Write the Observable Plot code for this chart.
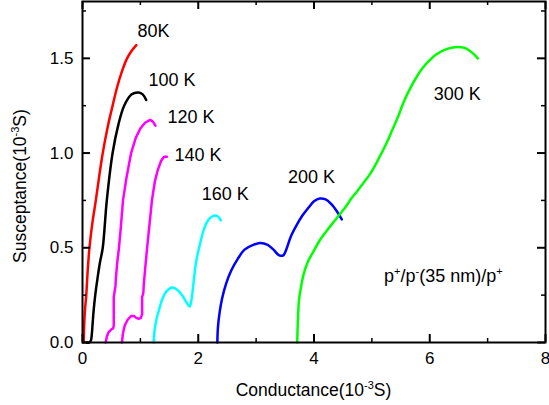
<!DOCTYPE html>
<html><head><meta charset="utf-8">
<script src="https://cdn.jsdelivr.net/npm/d3@7"></script>
<script src="https://cdn.jsdelivr.net/npm/@observablehq/plot@0.6"></script>
<style>body{margin:0;background:#fff}svg{display:block}</style>
</head><body><div id="chart"></div>
<script>
// ---- data (Conductance G, Susceptance B, units 10^-3 S) ----
const g80 = [0.02,0.03,0.045,0.065,0.09,0.12,0.17,0.23,0.29,0.35,0.43,0.52,0.60,0.68,0.77,0.85,0.93];
const b80 = [0.0,0.1,0.18,0.25,0.38,0.5,0.63,0.75,0.88,1.0,1.13,1.25,1.35,1.43,1.5,1.54,1.57];

const g100 = [0.07,0.12,0.145,0.16,0.175,0.19,0.22,0.26,0.30,0.35,0.42,0.52,0.62,0.72,0.85,0.97,1.04,1.10];
const b100 = [0.0,0.0,0.01,0.04,0.1,0.16,0.25,0.34,0.42,0.5,0.75,1.0,1.15,1.25,1.31,1.32,1.31,1.28];

const g120 = [0.40,0.42,0.45,0.50,0.53,0.54,0.54,0.55,0.56,0.57,0.58,0.60,0.63,0.66,0.70,0.76,0.84,0.92,1.0,1.08,1.17,1.22,1.26];
const b120 = [0.0,0.03,0.054,0.07,0.075,0.09,0.24,0.26,0.28,0.30,0.35,0.42,0.5,0.6,0.75,0.87,1.0,1.08,1.13,1.16,1.175,1.165,1.145];

const g140 = [0.68,0.70,0.73,0.78,0.84,0.89,0.93,0.97,1.01,1.03,1.03,1.05,1.06,1.08,1.11,1.15,1.20,1.25,1.30,1.36,1.41,1.46];
const b140 = [0.0,0.05,0.09,0.12,0.14,0.14,0.13,0.125,0.13,0.15,0.24,0.26,0.31,0.38,0.48,0.6,0.75,0.85,0.91,0.96,0.98,0.98];

const g160 = [1.23,1.24,1.27,1.32,1.38,1.45,1.55,1.63,1.72,1.80,1.85,1.88,1.92,1.96,2.03,2.10,2.17,2.24,2.29,2.34,2.39];
const b160 = [0.0,0.05,0.11,0.17,0.23,0.27,0.29,0.28,0.25,0.21,0.19,0.22,0.32,0.42,0.52,0.6,0.645,0.665,0.67,0.665,0.645];

const g200 = [2.33,2.34,2.37,2.41,2.48,2.57,2.68,2.80,2.95,3.07,3.20,3.30,3.40,3.47,3.52,3.60,3.70,3.80,3.90,4.00,4.10,4.20,4.30,4.40,4.48];
const b200 = [0.0,0.08,0.16,0.23,0.31,0.38,0.44,0.49,0.515,0.525,0.515,0.49,0.46,0.46,0.49,0.56,0.62,0.67,0.71,0.745,0.76,0.755,0.73,0.69,0.65];

const g300 = [3.71,3.72,3.74,3.78,3.82,3.90,3.99,4.10,4.22,4.35,4.48,4.58,4.62,4.75,4.86,4.97,5.10,5.25,5.35,5.45,5.55,5.66,5.77,5.88,6.00,6.11,6.30,6.49,6.60,6.69,6.77,6.83];
const b300 = [0.0,0.1,0.22,0.3,0.36,0.43,0.48,0.54,0.59,0.64,0.69,0.73,0.75,0.8,0.845,0.89,0.96,1.05,1.12,1.19,1.27,1.34,1.40,1.45,1.49,1.52,1.55,1.56,1.555,1.54,1.52,1.50];

const seriesNames = ["80K","100 K","120 K","140 K","160 K","200 K","300 K"];
const seriesColors = ["#ff0000","#000000","#ff00ff","#ff00ff","#00ffff","#0000ff","#00ff00"];
const labelG = [0.95,1.14,1.47,1.59,2.06,3.55,6.07];
const labelB = [1.645,1.384,1.19,0.99,0.78,0.87,1.31];

const xMajor = [0,2,4,6,8];
const xMinor = [1,3,5,7];
const yMajor = [0,0.5,1.0,1.5];
const yMinor = [0.25,0.75,1.25,1.75];

const xTitle = ["Conductance(10","-3","S)"];
const yTitle = ["Susceptance(10","-3","S)"];
const note = [["p",""],["+","sup"],["/p",""],["-","sup"],["(35 nm)/p",""],["+","sup"]];
const noteG = 5.22, noteB = 0.35;

// ---- build ----
const gs = [g80,g100,g120,g140,g160,g200,g300];
const bs = [b80,b100,b120,b140,b160,b200,b300];
const rows = [];
gs.forEach((g,i)=>g.forEach((x,j)=>rows.push({s:seriesNames[i], x, y:bs[i][j]})));
const labels = seriesNames.map((t,i)=>({t, x:labelG[i], y:labelB[i]}));

const W=549,H=405,mL=82,mR=4,mT=1,mB=63;
const inner = H-mT-mB;
const innerW = W-mL-mR;

const lineMarks = seriesNames.map((s,i)=>Plot.line(rows.filter(r=>r.s===s),{
  x:"x", y:"y", stroke: seriesColors[i], strokeWidth:2.5,
  curve: (i===2||i===3) ? "linear" : "catmull-rom"
}));

const chart = Plot.plot({
  width:W, height:H, marginLeft:mL, marginRight:mR, marginTop:mT, marginBottom:mB,
  style:{fontFamily:"'Liberation Sans', Arial, sans-serif", fontSize:"17px", background:"#fff", color:"#000", overflow:"visible"},
  x:{domain:[0,8]},
  y:{domain:[0,1.8]},
  marks:[
    ...lineMarks,
    Plot.axisX({ticks:xMajor, tickSize:0, tickPadding:9, tickFormat:d3.format("d"), label:null, fontSize:17}),
    Plot.axisY({ticks:yMajor, tickSize:0, tickPadding:9, tickFormat:d3.format(".1f"), label:null, fontSize:17}),
    Plot.tickX(xMajor,{x:d=>d, insetTop:inner-8, stroke:"#000", strokeWidth:2}),
    Plot.tickX(xMinor,{x:d=>d, insetTop:inner-4, stroke:"#000", strokeWidth:1.5}),
    Plot.tickX(xMajor,{x:d=>d, insetBottom:inner-8, stroke:"#000", strokeWidth:2}),
    Plot.tickX(xMinor,{x:d=>d, insetBottom:inner-4, stroke:"#000", strokeWidth:1.5}),
    Plot.tickY(yMajor,{y:d=>d, insetRight:innerW-8, stroke:"#000", strokeWidth:2}),
    Plot.tickY(yMinor,{y:d=>d, insetRight:innerW-4, stroke:"#000", strokeWidth:1.5}),
    Plot.tickY(yMajor,{y:d=>d, insetLeft:innerW-8, stroke:"#000", strokeWidth:2}),
    Plot.tickY(yMinor,{y:d=>d, insetLeft:innerW-4, stroke:"#000", strokeWidth:1.5}),
    Plot.frame({stroke:"#000", strokeWidth:2}),
    Plot.text(labels,{x:"x", y:"y", text:"t", textAnchor:"start", lineAnchor:"middle", fontSize:18, fill:"#000"})
  ]
});
document.getElementById("chart").appendChild(chart);

const svg = d3.select(chart);
const sx = chart.scale("x"), sy = chart.scale("y");
function richText(parent, parts){
  let prevSup = false;
  parts.forEach(([txt,kind])=>{
    const ts = parent.append("tspan").text(txt);
    if(kind==="sup"){ ts.attr("dy", prevSup ? "0" : "-7").attr("font-size","11px"); prevSup = true; }
    else { if(prevSup) ts.attr("dy","7"); prevSup = false; }
  });
}
// x title
const xt = svg.append("text").attr("x",(mL+W-mR)/2).attr("y",396)
  .attr("text-anchor","middle").attr("font-size",17.5).attr("fill","#000");
richText(xt, [[xTitle[0],""],[xTitle[1],"sup"],[xTitle[2],""]]);
// y title
const yt = svg.append("text").attr("transform","translate(26,186) rotate(-90)")
  .attr("text-anchor","middle").attr("font-size",17.5).attr("fill","#000");
richText(yt, [[yTitle[0],""],[yTitle[1],"sup"],[yTitle[2],""]]);
// note
const nt = svg.append("text").attr("x",sx.apply(noteG)).attr("y",sy.apply(noteB)+6)
  .attr("text-anchor","start").attr("font-size",18).attr("fill","#000");
richText(nt, note);
</script></body></html>
